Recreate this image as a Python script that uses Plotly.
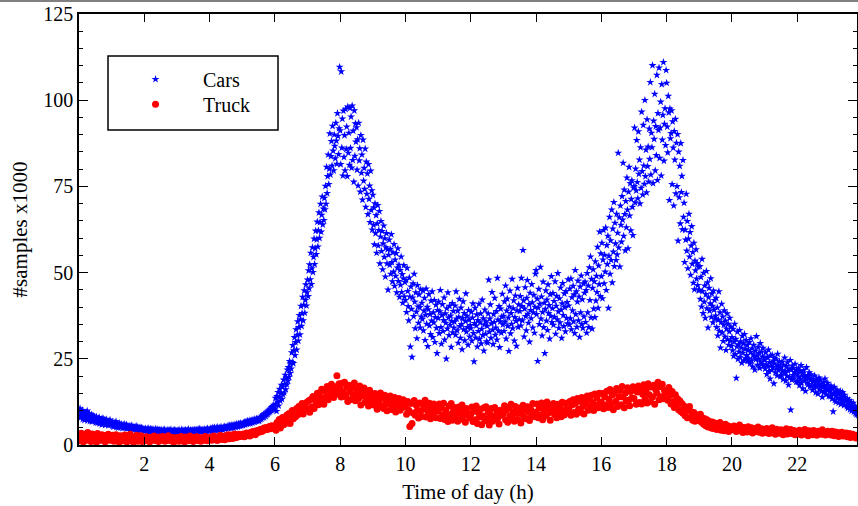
import numpy as np
import plotly.graph_objects as go

# Cars: one row per half hour, one sample per minute (x1000 samples)
cars_by_halfhour = [
    [9.8, 8.1, 10.6, 7.9, 9.2, 8.4, 10.1, 7.5, 8.8, 9.6, 7.2, 8.9, 9.4, 7.8, 8.3, 9.9, 7.1, 8.6, 7.7, 9.1, 6.9, 8.2, 7.4, 8.8, 6.8, 7.9, 8.5, 7.0, 7.6, 8.1],
    [7.3, 6.5, 8.2, 7.0, 6.4, 7.7, 6.9, 8.0, 6.2, 7.1, 6.8, 7.5, 5.9, 6.7, 7.8, 6.3, 6.9, 7.2, 5.8, 6.6, 7.4, 6.0, 6.5, 7.0, 5.7, 6.8, 6.2, 7.3, 5.9, 6.4],
    [6.1, 5.6, 6.7, 5.3, 6.0, 6.4, 5.5, 5.9, 6.8, 5.2, 5.8, 6.2, 5.0, 5.7, 6.3, 5.4, 5.9, 5.1, 6.0, 5.5, 4.9, 5.8, 5.3, 6.1, 5.0, 5.6, 5.2, 5.9, 4.8, 5.4],
    [5.3, 4.8, 5.6, 5.0, 4.6, 5.4, 4.9, 5.7, 4.5, 5.1, 4.8, 5.3, 4.4, 5.0, 4.7, 5.5, 4.3, 4.9, 5.2, 4.6, 4.8, 4.4, 5.1, 4.7, 4.3, 5.0, 4.5, 4.8, 4.2, 4.6],
    [4.5, 4.1, 4.8, 4.3, 3.9, 4.6, 4.2, 4.9, 4.0, 4.4, 3.8, 4.7, 4.2, 4.5, 3.9, 4.3, 4.6, 4.0, 4.4, 3.8, 4.2, 4.7, 4.1, 3.9, 4.5, 4.0, 4.3, 3.7, 4.4, 4.1],
    [4.2, 3.8, 4.4, 4.0, 3.7, 4.3, 3.9, 4.5, 3.6, 4.1, 4.0, 3.8, 4.4, 3.7, 4.2, 3.9, 4.3, 3.6, 4.0, 4.5, 3.8, 4.1, 3.7, 4.2, 3.9, 4.4, 3.6, 4.0, 4.2, 3.8],
    [4.1, 3.7, 4.3, 3.9, 4.4, 3.8, 4.0, 3.6, 4.2, 4.5, 3.9, 4.1, 3.7, 4.3, 4.0, 3.8, 4.4, 3.6, 4.1, 3.9, 4.2, 4.6, 3.8, 4.0, 3.7, 4.3, 4.1, 3.9, 4.4, 4.0],
    [4.2, 3.9, 4.4, 4.0, 3.8, 4.5, 4.1, 4.3, 3.9, 4.6, 4.0, 4.2, 4.7, 3.9, 4.3, 4.1, 4.5, 3.8, 4.4, 4.2, 4.0, 4.6, 4.3, 3.9, 4.5, 4.1, 4.8, 4.2, 4.4, 4.0],
    [4.5, 4.2, 4.8, 4.3, 4.6, 5.0, 4.1, 4.7, 4.4, 5.1, 4.5, 4.2, 4.9, 4.6, 5.2, 4.3, 4.8, 4.5, 5.0, 4.4, 4.7, 5.3, 4.6, 4.9, 4.4, 5.1, 4.8, 5.4, 4.7, 5.0],
    [5.1, 4.8, 5.4, 5.0, 5.6, 4.9, 5.3, 5.7, 5.1, 5.5, 4.9, 5.8, 5.2, 5.6, 5.0, 5.9, 5.4, 5.7, 5.2, 6.1, 5.5, 5.8, 5.3, 6.2, 5.6, 6.0, 5.5, 6.3, 5.7, 6.0],
    [6.1, 5.7, 6.4, 6.0, 6.6, 5.9, 6.3, 6.8, 6.1, 6.5, 7.0, 6.2, 6.7, 6.4, 7.1, 6.3, 6.9, 6.6, 7.3, 6.5, 7.0, 6.8, 7.5, 6.7, 7.2, 6.9, 7.6, 7.0, 7.4, 7.1],
    [7.3, 7.0, 7.8, 7.4, 8.1, 7.6, 8.4, 7.9, 8.2, 8.8, 8.0, 8.6, 9.1, 8.4, 9.3, 8.8, 9.6, 9.0, 9.9, 9.4, 10.2, 9.7, 10.5, 10.0, 10.9, 10.3, 11.2, 10.6, 11.6, 11.0],
    [10.2, 13.6, 11.9, 9.8, 14.1, 12.5, 15.3, 11.4, 13.9, 16.2, 12.8, 15.0, 17.4, 13.3, 16.8, 14.6, 18.9, 15.2, 17.7, 20.3, 16.1, 19.4, 17.5, 21.8, 18.6, 22.5, 19.7, 24.3, 20.8, 23.6],
    [22.1, 26.8, 24.0, 28.9, 23.7, 27.4, 31.2, 26.0, 29.8, 33.5, 27.6, 31.9, 35.8, 30.2, 34.1, 37.6, 32.0, 36.4, 40.3, 34.5, 38.2, 42.9, 36.1, 40.6, 44.8, 38.3, 42.0, 46.5, 40.4, 44.2],
    [47.9, 43.1, 50.6, 45.4, 52.3, 48.0, 55.7, 46.6, 51.2, 57.3, 50.1, 54.5, 59.8, 52.4, 57.0, 62.1, 55.3, 59.6, 64.7, 57.5, 62.2, 67.4, 60.0, 64.6, 69.9, 61.8, 66.7, 72.0, 63.9, 68.5],
    [65.2, 71.6, 68.3, 75.1, 69.9, 80.6, 73.0, 77.9, 84.2, 75.6, 80.1, 90.3, 78.4, 83.7, 88.1, 81.0, 92.5, 85.3, 79.6, 90.0, 86.7, 83.1, 93.4, 88.2, 81.5, 96.2, 89.6, 84.3, 91.8, 109.6],
    [91.2, 81.4, 108.3, 86.2, 94.6, 78.1, 96.9, 83.5, 89.8, 79.6, 97.4, 85.8, 92.3, 77.9, 98.1, 84.7, 90.5, 81.2, 97.7, 86.1, 95.2, 80.4, 98.4, 82.6, 91.1, 76.3, 97.0, 83.8, 93.2, 87.9],
    [92.1, 79.8, 88.6, 75.2, 93.4, 82.5, 86.0, 73.4, 89.8, 78.9, 84.2, 71.1, 88.5, 76.6, 80.3, 74.2, 85.9, 69.0, 82.1, 72.8, 78.7, 66.9, 81.4, 71.3, 75.2, 64.6, 79.5, 68.1, 73.8, 62.4],
    [72.5, 63.8, 68.9, 58.1, 70.0, 61.4, 66.6, 55.7, 64.2, 69.5, 57.8, 62.3, 67.8, 52.6, 60.4, 64.9, 56.2, 62.0, 50.9, 58.4, 63.6, 54.5, 59.9, 48.8, 57.3, 61.4, 52.6, 56.7, 45.0, 55.1],
    [59.5, 52.2, 56.8, 49.6, 61.1, 53.0, 47.4, 55.8, 50.2, 58.2, 46.1, 53.7, 49.0, 55.6, 44.2, 51.4, 57.0, 47.5, 52.2, 42.9, 50.7, 46.4, 54.6, 44.3, 49.5, 41.2, 48.3, 52.1, 43.0, 47.2],
    [42.0, 47.8, 38.5, 51.3, 44.6, 40.2, 36.1, 48.5, 43.0, 28.5, 45.9, 39.4, 25.5, 42.7, 46.8, 37.3, 49.6, 41.5, 33.8, 44.2, 38.6, 30.9, 46.3, 40.1, 35.4, 43.6, 39.9, 34.0, 45.1, 37.2],
    [41.2, 36.5, 44.8, 33.2, 38.9, 42.6, 30.4, 37.7, 45.3, 35.1, 40.0, 28.6, 39.3, 43.7, 34.6, 37.9, 32.1, 41.8, 36.0, 44.5, 31.2, 38.4, 35.5, 42.0, 29.8, 37.0, 40.6, 33.9, 26.6, 39.1],
    [36.8, 41.5, 32.4, 38.7, 44.9, 34.1, 29.3, 37.6, 40.8, 33.0, 36.2, 42.7, 30.5, 38.1, 35.4, 25.0, 39.6, 33.7, 44.2, 36.9, 31.8, 40.3, 34.8, 37.5, 28.4, 35.9, 41.1, 32.6, 38.8, 34.0],
    [35.7, 40.4, 31.9, 44.5, 36.6, 33.2, 38.9, 29.6, 37.1, 42.3, 34.4, 31.0, 39.8, 35.0, 27.7, 36.8, 41.6, 33.5, 38.2, 30.3, 35.9, 43.9, 32.8, 37.4, 34.1, 29.0, 39.1, 36.3, 31.4, 34.7],
    [33.8, 38.6, 30.2, 36.9, 41.0, 32.4, 24.2, 35.3, 39.7, 31.1, 34.6, 37.8, 28.5, 36.2, 33.0, 40.9, 30.7, 35.5, 38.1, 29.4, 33.6, 42.1, 31.8, 36.7, 27.3, 34.9, 39.2, 32.2, 35.8, 30.0],
    [34.5, 29.6, 38.1, 47.9, 32.8, 36.6, 40.7, 31.0, 35.2, 44.3, 33.4, 29.2, 37.9, 35.6, 42.6, 31.9, 34.0, 38.8, 30.5, 48.4, 36.3, 33.1, 40.2, 28.3, 35.8, 39.5, 32.5, 37.2, 43.8, 34.9],
    [37.4, 33.0, 41.6, 35.7, 46.2, 30.8, 38.9, 42.4, 34.5, 36.9, 27.2, 40.1, 44.7, 32.3, 38.2, 35.1, 48.1, 33.8, 39.6, 41.9, 30.2, 37.0, 43.3, 35.9, 28.7, 39.0, 45.5, 34.2, 40.7, 36.4],
    [38.8, 43.1, 34.6, 48.4, 40.2, 36.1, 56.5, 41.9, 31.4, 39.5, 45.7, 37.3, 33.2, 42.6, 47.8, 38.0, 35.4, 40.8, 29.9, 44.1, 39.1, 36.7, 46.6, 41.3, 34.0, 38.4, 43.5, 32.5, 40.0, 49.6],
    [50.7, 37.9, 42.4, 24.3, 39.8, 45.2, 35.0, 40.9, 51.6, 36.6, 43.0, 31.7, 38.5, 47.3, 34.1, 41.2, 26.6, 39.4, 44.8, 36.0, 42.1, 33.3, 46.5, 38.2, 40.5, 30.8, 43.7, 37.4, 48.9, 35.6],
    [39.6, 44.0, 34.8, 41.7, 37.1, 47.4, 32.2, 40.3, 43.2, 36.4, 49.8, 38.7, 33.9, 42.5, 35.5, 45.6, 39.2, 31.0, 41.0, 46.9, 37.6, 34.4, 43.9, 39.9, 32.9, 44.6, 36.8, 41.4, 35.2, 48.0],
    [40.4, 34.9, 45.3, 36.7, 48.2, 33.5, 42.8, 39.0, 46.1, 35.8, 43.6, 32.4, 50.7, 37.9, 44.5, 34.2, 41.5, 47.6, 36.1, 43.0, 31.3, 45.9, 38.4, 49.1, 35.0, 42.2, 33.9, 46.8, 37.2, 44.1],
    [47.3, 35.6, 44.9, 32.5, 49.8, 38.4, 46.2, 34.1, 51.5, 42.0, 54.6, 36.9, 48.1, 33.7, 45.5, 50.9, 39.5, 47.4, 37.0, 53.2, 41.8, 49.0, 44.3, 57.4, 39.7, 52.0, 46.6, 61.8, 43.1, 55.5],
    [48.9, 58.6, 42.5, 53.7, 62.3, 46.8, 55.1, 50.2, 63.0, 44.9, 57.9, 52.4, 60.6, 39.7, 54.8, 66.1, 49.6, 59.3, 53.6, 68.2, 47.1, 62.7, 56.0, 70.4, 51.8, 64.4, 58.4, 53.6, 67.0, 55.2],
    [61.5, 84.7, 57.2, 66.0, 51.7, 69.4, 63.8, 58.9, 72.1, 65.3, 81.8, 60.6, 74.0, 66.9, 56.4, 70.7, 63.1, 77.5, 68.2, 57.0, 73.4, 80.6, 66.5, 75.9, 62.2, 71.3, 76.7, 69.0, 60.8, 74.6],
    [75.0, 92.0, 70.3, 80.1, 73.8, 88.4, 76.2, 71.5, 90.9, 78.6, 82.7, 70.0, 86.3, 74.5, 96.6, 79.4, 72.6, 92.8, 81.0, 75.7, 100.0, 77.9, 85.6, 73.2, 94.4, 80.8, 86.5, 76.3, 91.7, 82.9],
    [105.2, 78.4, 90.5, 86.3, 110.1, 75.9, 94.0, 88.7, 101.8, 79.6, 92.4, 84.0, 107.3, 76.8, 96.2, 91.3, 109.4, 83.2, 92.0, 99.5, 78.1, 104.6, 88.5, 95.7, 111.0, 82.4, 93.1, 97.6, 86.9, 108.7],
    [105.0, 92.3, 84.8, 101.2, 96.4, 71.0, 97.5, 88.9, 90.4, 97.0, 75.6, 93.8, 86.2, 69.4, 91.0, 82.7, 94.5, 72.9, 87.6, 75.0, 90.1, 59.2, 85.0, 71.8, 80.9, 64.2, 87.5, 73.3, 78.0, 62.5],
    [82.6, 66.1, 70.2, 53.0, 62.4, 59.5, 72.8, 56.3, 64.9, 51.2, 59.8, 67.0, 54.6, 61.7, 49.3, 57.8, 63.4, 52.5, 55.9, 47.0, 58.6, 45.1, 53.4, 50.6, 56.7, 48.2, 52.7, 46.3, 51.7, 44.8],
    [45.0, 51.8, 42.3, 48.7, 40.1, 53.9, 44.6, 38.2, 49.9, 41.5, 46.2, 36.8, 43.7, 50.4, 39.6, 47.1, 34.0, 42.8, 45.5, 38.9, 41.0, 48.3, 37.1, 43.9, 40.3, 35.5, 44.7, 39.2, 42.0, 36.6],
    [37.5, 42.6, 34.1, 39.8, 31.7, 36.3, 44.5, 33.0, 38.4, 28.2, 35.6, 40.9, 32.6, 37.2, 30.1, 34.8, 39.0, 31.4, 36.0, 27.5, 33.7, 38.1, 30.6, 35.1, 29.0, 32.9, 36.8, 30.2, 34.3, 28.7],
    [31.2, 27.4, 33.6, 25.8, 29.9, 35.1, 26.3, 30.7, 19.4, 28.5, 32.8, 24.9, 29.1, 27.0, 33.3, 25.5, 30.0, 28.2, 23.8, 31.6, 26.7, 29.4, 24.5, 32.1, 27.8, 25.1, 30.4, 26.0, 28.9, 24.3],
    [27.5, 25.1, 29.8, 23.6, 26.9, 30.9, 24.4, 28.0, 22.7, 26.2, 29.0, 25.5, 21.8, 27.3, 24.8, 31.5, 25.9, 23.2, 28.4, 25.0, 26.7, 22.3, 29.5, 24.1, 27.0, 23.5, 25.6, 28.1, 22.9, 25.3],
    [24.6, 22.1, 26.8, 23.3, 20.5, 25.4, 22.8, 27.6, 21.4, 24.0, 19.2, 25.9, 23.0, 21.7, 26.1, 22.5, 24.4, 17.8, 23.6, 25.2, 21.0, 24.8, 22.2, 20.1, 26.4, 23.1, 21.6, 24.2, 22.7, 19.9],
    [22.4, 20.3, 24.1, 21.6, 19.0, 23.2, 20.9, 25.3, 21.2, 18.6, 22.8, 20.0, 23.9, 21.5, 17.4, 22.0, 19.6, 24.6, 10.2, 21.9, 18.9, 23.0, 20.2, 22.3, 19.3, 21.1, 23.5, 20.6, 18.3, 21.8],
    [20.5, 18.4, 22.2, 19.7, 17.3, 21.4, 19.0, 23.1, 18.1, 20.8, 16.4, 19.9, 21.7, 18.7, 20.2, 15.6, 19.3, 22.5, 18.0, 20.0, 17.6, 19.5, 21.0, 16.9, 18.8, 20.4, 17.2, 19.1, 15.9, 18.5],
    [18.3, 16.5, 20.1, 17.4, 15.2, 19.0, 16.9, 18.6, 14.8, 17.8, 19.5, 16.1, 17.1, 18.9, 15.6, 17.6, 13.9, 16.7, 18.2, 15.3, 17.0, 19.2, 16.3, 14.6, 17.3, 15.8, 18.0, 16.0, 14.2, 16.6],
    [15.8, 14.1, 17.2, 15.0, 13.4, 16.3, 9.7, 14.7, 16.8, 13.0, 15.4, 12.5, 14.4, 16.0, 13.7, 15.1, 12.2, 14.9, 13.3, 15.6, 11.8, 14.2, 12.9, 15.3, 12.4, 13.8, 11.5, 14.5, 12.7, 13.1],
    [12.6, 11.2, 13.5, 10.7, 12.0, 11.5, 13.0, 10.3, 11.8, 12.4, 9.9, 11.1, 10.6, 12.2, 9.6, 10.9, 11.4, 9.2, 10.4, 8.8, 10.1, 9.5, 8.6, 9.8, 8.2, 9.3, 8.9, 7.9, 8.5, 8.1],
]

# Trucks: one row per hour, one sample every two minutes (x1000 samples)
truck_by_hour = [
    [2.9, 1.2, 3.4, 2.0, 0.9, 3.1, 2.5, 1.4, 3.6, 1.8, 2.7, 1.0, 3.2, 2.3, 1.5, 2.9, 0.8, 3.3, 2.1, 1.3, 2.6, 3.0, 1.6, 2.2, 0.9, 2.8, 1.9, 3.1, 1.4, 2.4],
    [1.9, 2.8, 1.1, 2.4, 3.0, 1.4, 2.2, 0.8, 2.7, 1.6, 2.5, 1.2, 2.9, 1.8, 0.9, 2.6, 1.5, 3.1, 1.3, 2.1, 0.8, 2.4, 1.7, 2.8, 1.1, 2.3, 1.5, 2.7, 1.0, 1.9],
    [1.8, 1.2, 2.4, 1.6, 2.0, 0.9, 2.2, 1.5, 1.9, 2.6, 1.3, 1.7, 2.1, 1.0, 2.3, 1.6, 1.4, 2.5, 1.8, 1.1, 2.0, 1.5, 2.7, 1.3, 1.9, 1.6, 2.2, 0.8, 1.7, 2.1],
    [1.6, 2.2, 1.1, 1.9, 2.5, 1.4, 1.8, 0.9, 2.3, 1.7, 2.0, 1.2, 2.6, 1.5, 1.9, 1.0, 2.1, 1.6, 2.4, 1.3, 1.8, 2.2, 1.1, 1.7, 2.0, 1.4, 2.5, 1.6, 1.2, 1.9],
    [1.8, 2.3, 1.4, 2.1, 2.6, 1.7, 2.0, 1.3, 2.4, 1.9, 2.8, 1.6, 2.2, 2.5, 1.5, 2.7, 2.0, 3.0, 1.8, 2.4, 2.9, 1.9, 2.6, 3.2, 2.1, 2.7, 2.3, 3.1, 2.5, 2.8],
    [2.6, 3.2, 2.4, 2.9, 3.5, 2.8, 3.3, 2.6, 3.7, 3.1, 3.9, 3.4, 3.0, 4.1, 3.6, 4.3, 3.8, 4.6, 3.9, 4.2, 4.9, 4.4, 5.1, 4.5, 4.8, 5.4, 4.7, 5.6, 5.0, 5.3],
    [5.6, 4.3, 6.5, 5.2, 7.4, 4.9, 6.8, 8.0, 5.9, 7.6, 6.3, 8.7, 7.0, 9.1, 6.2, 8.5, 10.0, 7.6, 9.4, 8.2, 10.6, 8.8, 11.2, 9.3, 10.4, 12.0, 9.0, 11.5, 10.2, 12.3],
    [10.4, 12.8, 9.5, 13.2, 11.0, 14.1, 10.6, 13.5, 12.1, 15.0, 11.7, 14.6, 12.9, 16.2, 13.4, 11.8, 15.7, 14.0, 17.0, 13.1, 16.4, 14.5, 17.6, 15.2, 13.8, 16.9, 15.6, 20.1, 14.7, 17.8],
    [16.2, 13.9, 17.9, 15.3, 18.2, 14.1, 16.8, 12.6, 17.3, 15.4, 13.2, 16.9, 14.6, 18.0, 12.8, 16.1, 15.0, 13.5, 17.1, 11.6, 15.8, 14.2, 16.5, 12.4, 15.2, 13.7, 11.3, 15.9, 13.0, 14.6],
    [13.8, 11.6, 14.9, 12.5, 10.4, 14.0, 12.0, 15.1, 11.1, 13.6, 10.6, 14.4, 12.2, 9.9, 13.3, 11.8, 14.2, 10.3, 12.7, 11.2, 13.8, 9.6, 12.4, 11.0, 13.5, 10.1, 12.3, 10.8, 13.1, 11.4],
    [11.2, 8.9, 12.6, 10.1, 5.4, 12.0, 6.2, 9.3, 12.9, 8.6, 11.5, 10.0, 7.8, 12.2, 9.9, 8.3, 11.8, 10.4, 13.0, 8.1, 10.8, 9.2, 12.1, 7.6, 10.5, 9.0, 11.9, 10.2, 7.9, 11.0],
    [9.8, 11.9, 7.7, 10.8, 8.6, 12.1, 7.4, 10.0, 9.1, 6.8, 11.3, 8.5, 12.0, 7.2, 9.7, 10.9, 8.0, 9.3, 6.9, 11.0, 9.4, 7.5, 11.6, 8.4, 10.2, 6.6, 10.6, 8.7, 9.1, 7.9],
    [8.9, 11.0, 6.8, 9.8, 7.3, 11.3, 6.2, 9.4, 8.1, 10.4, 5.9, 8.4, 10.8, 7.0, 11.1, 7.6, 9.5, 5.8, 8.8, 10.6, 6.9, 8.2, 10.9, 7.4, 9.7, 7.9, 6.1, 10.1, 8.6, 9.2],
    [9.1, 11.4, 7.3, 10.2, 6.6, 10.9, 8.5, 11.8, 7.9, 9.6, 6.9, 11.2, 9.2, 7.4, 10.7, 9.9, 6.4, 9.0, 11.5, 8.0, 10.3, 7.6, 11.1, 9.5, 7.1, 10.4, 8.7, 12.0, 9.3, 8.2],
    [9.6, 11.9, 7.9, 10.8, 8.6, 12.2, 7.3, 10.1, 11.4, 8.4, 12.5, 9.2, 10.6, 7.2, 11.6, 9.8, 12.0, 8.8, 10.9, 7.9, 11.8, 9.6, 11.2, 8.2, 12.4, 10.0, 8.7, 12.1, 10.5, 9.4],
    [10.5, 12.6, 8.6, 11.6, 13.1, 9.4, 12.0, 8.9, 13.5, 10.4, 12.7, 9.5, 13.8, 11.2, 9.0, 13.0, 11.9, 14.2, 10.1, 13.4, 11.1, 14.4, 12.3, 10.0, 14.8, 11.6, 13.7, 10.8, 15.0, 12.2],
    [12.4, 14.9, 10.5, 14.0, 11.6, 15.6, 10.9, 13.3, 16.1, 11.8, 14.5, 10.2, 15.3, 12.6, 16.4, 11.2, 13.9, 15.8, 11.7, 17.0, 13.9, 10.8, 15.1, 12.7, 16.6, 13.0, 11.4, 15.5, 13.6, 16.9],
    [13.5, 16.1, 11.8, 15.4, 17.1, 12.3, 16.3, 11.9, 14.7, 17.5, 13.2, 15.9, 12.2, 17.8, 14.6, 12.6, 16.8, 13.9, 17.3, 11.8, 16.1, 15.0, 18.2, 13.1, 16.9, 14.0, 17.6, 13.4, 15.8, 14.9],
    [15.8, 13.0, 16.7, 14.4, 11.9, 15.5, 12.6, 10.9, 14.6, 11.7, 13.4, 10.2, 12.8, 9.7, 12.0, 9.2, 11.3, 8.5, 10.6, 7.9, 10.1, 11.2, 7.8, 9.6, 7.2, 9.4, 6.9, 8.8, 7.1, 8.6],
    [7.9, 8.9, 6.6, 7.8, 6.0, 7.6, 5.6, 7.3, 5.2, 6.9, 5.5, 4.9, 6.7, 4.8, 6.4, 5.3, 4.5, 6.2, 4.9, 6.5, 4.3, 5.8, 4.7, 4.1, 6.0, 4.5, 5.6, 3.9, 5.4, 4.4],
    [5.0, 4.4, 5.5, 4.7, 3.9, 5.2, 4.5, 5.8, 4.1, 4.8, 3.6, 5.1, 4.3, 4.9, 3.8, 5.3, 4.6, 4.0, 5.0, 3.5, 4.4, 4.8, 3.9, 4.6, 5.2, 3.7, 4.3, 4.7, 3.4, 4.5],
    [4.3, 3.6, 4.8, 4.0, 3.3, 4.5, 3.8, 5.0, 3.5, 4.2, 3.1, 4.6, 3.9, 4.1, 3.4, 4.4, 3.7, 3.0, 4.3, 3.8, 4.7, 3.2, 4.0, 3.6, 4.5, 3.3, 3.9, 4.2, 3.0, 3.7],
    [3.8, 3.2, 4.3, 3.6, 2.9, 4.0, 3.4, 4.5, 3.1, 3.7, 2.7, 4.1, 3.5, 3.9, 3.0, 4.2, 3.3, 3.6, 2.8, 4.0, 3.4, 3.8, 3.1, 4.4, 3.2, 3.7, 2.9, 3.5, 4.0, 3.3],
    [3.5, 2.9, 4.0, 3.3, 2.7, 3.8, 3.1, 3.6, 2.5, 3.4, 3.0, 3.7, 2.6, 3.2, 2.8, 3.5, 2.4, 3.0, 3.3, 2.2, 2.9, 3.1, 2.5, 2.7, 2.0, 2.8, 2.3, 2.6, 1.9, 2.4],
]

x_ticks = [2, 4, 6, 8, 10, 12, 14, 16, 18, 20, 22]
y_ticks = [0, 25, 50, 75, 100, 125]


def flatten(rows, row_hours):
    xs, ys = [], []
    for k, row in enumerate(rows):
        step = row_hours / len(row)
        for i, v in enumerate(row):
            xs.append(k * row_hours + i * step)
            ys.append(v)
    return xs, ys


cx, cy = flatten(cars_by_halfhour, 0.5)
tx, ty = flatten(truck_by_hour, 1.0)

FONT = "Liberation Serif, Times New Roman, serif"

fig = go.Figure()
fig.add_trace(go.Scatter(x=cx, y=cy, mode="markers", name="Cars", legend="legend",
                         marker=dict(symbol="star", size=6, color="#0000ff", line=dict(width=0))))
fig.add_trace(go.Scatter(x=tx, y=ty, mode="markers", name="Truck", legend="legend2",
                         marker=dict(symbol="circle", size=7, color="#ff0000", line=dict(width=0))))

legend_common = dict(x=0.0373, xanchor="left", yanchor="top",
                     bgcolor="rgba(0,0,0,0)", borderwidth=0, itemwidth=85,
                     font=dict(family=FONT, size=20, color="black"))

fig.update_layout(
    width=858, height=506,
    margin=dict(l=79, r=1, t=14, b=61, autoexpand=False),
    paper_bgcolor="white", plot_bgcolor="white",
    font=dict(family=FONT, size=20, color="black"),
    showlegend=True,
    legend=dict(y=0.894, **legend_common),
    legend2=dict(y=0.836, **legend_common),
    xaxis=dict(range=[0, 23.83], tickvals=x_ticks, ticktext=[str(v) for v in x_ticks],
               showline=True, linecolor="black", linewidth=1.5, mirror="ticks",
               ticks="inside", ticklen=8, tickwidth=1, tickcolor="black",
               showgrid=False, zeroline=False,
               tickfont=dict(family=FONT, size=20, color="black"),
               title=dict(text="Time of day (h)", font=dict(family=FONT, size=21, color="black"), standoff=11)),
    yaxis=dict(range=[0, 125], tickvals=y_ticks,
               showline=True, linecolor="black", linewidth=1.5, mirror="ticks",
               ticks="inside", ticklen=9, tickwidth=1, tickcolor="black",
               minor=dict(dtick=5, ticks="inside", ticklen=4, tickwidth=1, tickcolor="black", showgrid=False),
               showgrid=False, zeroline=False,
               tickfont=dict(family=FONT, size=20, color="black"),
               title=dict(text="#samples x1000", font=dict(family=FONT, size=21, color="black"), standoff=10)),
    shapes=[
        dict(type="rect", xref="paper", yref="paper", x0=0.0373, x1=0.2558, y0=0.7309, y1=0.9026,
             line=dict(color="black", width=1.5), fillcolor="rgba(0,0,0,0)"),
        dict(type="line", xref="paper", yref="paper", x0=-0.11, x1=1.01, y0=1.0302, y1=1.0302,
             line=dict(color="#808080", width=2)),
    ],
)

fig.write_html("out.html")
